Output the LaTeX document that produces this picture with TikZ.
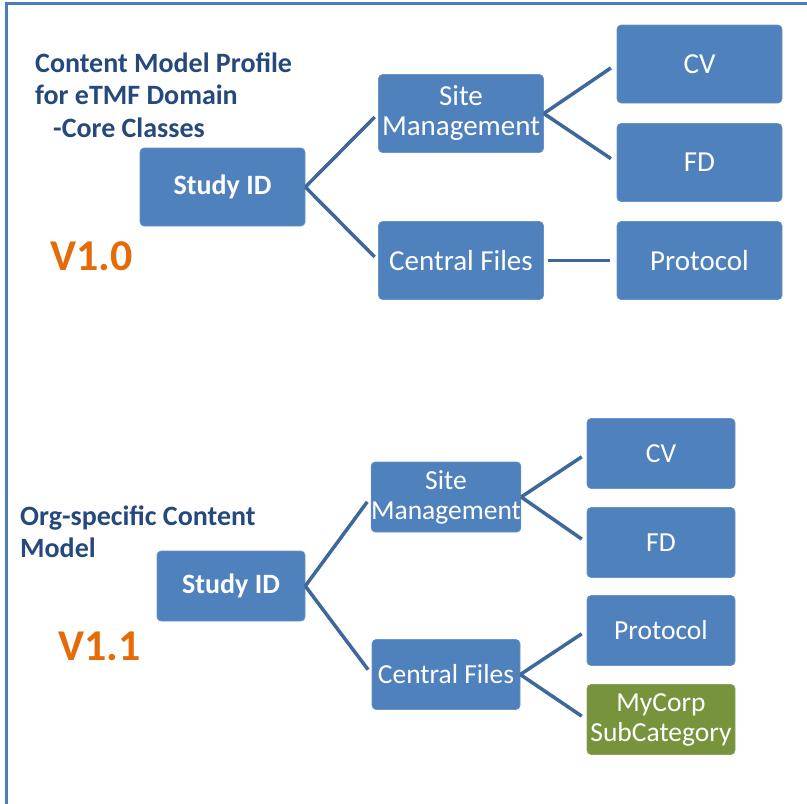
\documentclass[tikz,border=0pt]{standalone}
\usepackage{fontspec}
\setmainfont{Carlito}
\definecolor{boxblue}{RGB}{79,129,189}
\definecolor{linkblue}{RGB}{62,103,155}
\definecolor{framblue}{RGB}{74,126,187}
\definecolor{titleblue}{RGB}{38,73,125}
\definecolor{vorange}{RGB}{227,108,9}
\definecolor{boxgreen}{RGB}{119,147,60}
\tikzset{
  boxA/.style={rectangle, rounded corners=4pt, fill=boxblue, draw=boxblue!85!white, line width=0.6pt, text=white,
    font=\fontsize{29}{30}\selectfont, align=center, inner sep=0pt, minimum width=165pt, minimum height=78pt},
  boxB/.style={boxA, font=\fontsize{27.5}{30}\selectfont, minimum width=148pt, minimum height=70pt},
  greenbox/.style={boxB, fill=boxgreen, draw=boxgreen!85!white},
  boldbox/.style={font=\fontsize{28}{30}\selectfont\bfseries},
  link/.style={draw=linkblue, line width=3.5pt},
  titletext/.style={anchor=base west, inner sep=0pt, text=titleblue, font=\fontsize{28}{30}\selectfont\bfseries},
  vertext/.style={anchor=base west, inner sep=0pt, text=vorange, font=\fontsize{44}{48}\selectfont\bfseries},
}
\begin{document}
\begin{tikzpicture}[x=1pt,y=-1pt]
\useasboundingbox (0,0) rectangle (807,804);
% frame
\coordinate (ftl) at (6.5,3.5);
\coordinate (ftr) at (807,3.5);
\coordinate (fbl) at (6.5,804);
\draw[draw=framblue, line width=3pt] (ftr) -- (ftl) -- (fbl);

% ---------- top: V1.0 ----------
\node[titletext] (t1a) at (35,72) {Content Model Profile};
\node[titletext] (t1b) at (35,104) {for eTMF Domain};
\node[titletext] (t1c) at (53,137) {-Core Classes};
\node[vertext] (v10) at (50,270) {V1.0};

\node[boxA, boldbox] (sid1) at (222.5,187) {Study ID};
\node[boxA] (sm1) at (461,113.5) {Site\\Management};
\node[boxA] (cf1) at (461,260.5) {Central Files};
\node[boxA] (cv1) at (699.5,64) {CV};
\node[boxA] (fd1) at (699.5,162.5) {FD};
\node[boxA] (pr1) at (699.5,260.5) {Protocol};

\draw[link, shorten >=5pt] (sid1.east) -- (sm1.west);
\draw[link, shorten >=5pt] (sid1.east) -- (cf1.west);
\draw[link, shorten >=7pt] (sm1.east) -- (cv1.west);
\draw[link, shorten >=7pt] (sm1.east) -- (fd1.west);
\draw[link, shorten <=4pt, shorten >=7pt] (cf1.east) -- (pr1.west);

% ---------- bottom: V1.1 ----------
\node[titletext] (t2a) at (20,525) {Org-specific Content};
\node[titletext] (t2b) at (20,557) {Model};
\node[vertext] (v11) at (58,660) {V1.1};

\node[boxB, boldbox] (sid2) at (231,586) {Study ID};
\node[boxB] (sm2) at (446,497) {Site\\Management};
\node[boxB] (cf2) at (446,674.5) {Central Files};
\node[boxB] (cv2) at (661,453.5) {CV};
\node[boxB] (fd2) at (661,542.5) {FD};
\node[boxB] (pr2) at (661,630.5) {Protocol};
\node[greenbox] (mc2) at (661,719.5) {MyCorp\\SubCategory};

\draw[link, shorten >=6pt] (sid2.east) -- (sm2.west);
\draw[link, shorten >=6pt] (sid2.east) -- (cf2.west);
\draw[link, shorten >=6pt] (sm2.east) -- (cv2.west);
\draw[link, shorten >=6pt] (sm2.east) -- (fd2.west);
\draw[link, shorten >=6pt] (cf2.east) -- (pr2.west);
\draw[link, shorten >=6pt] (cf2.east) -- (mc2.west);
\end{tikzpicture}
\end{document}
